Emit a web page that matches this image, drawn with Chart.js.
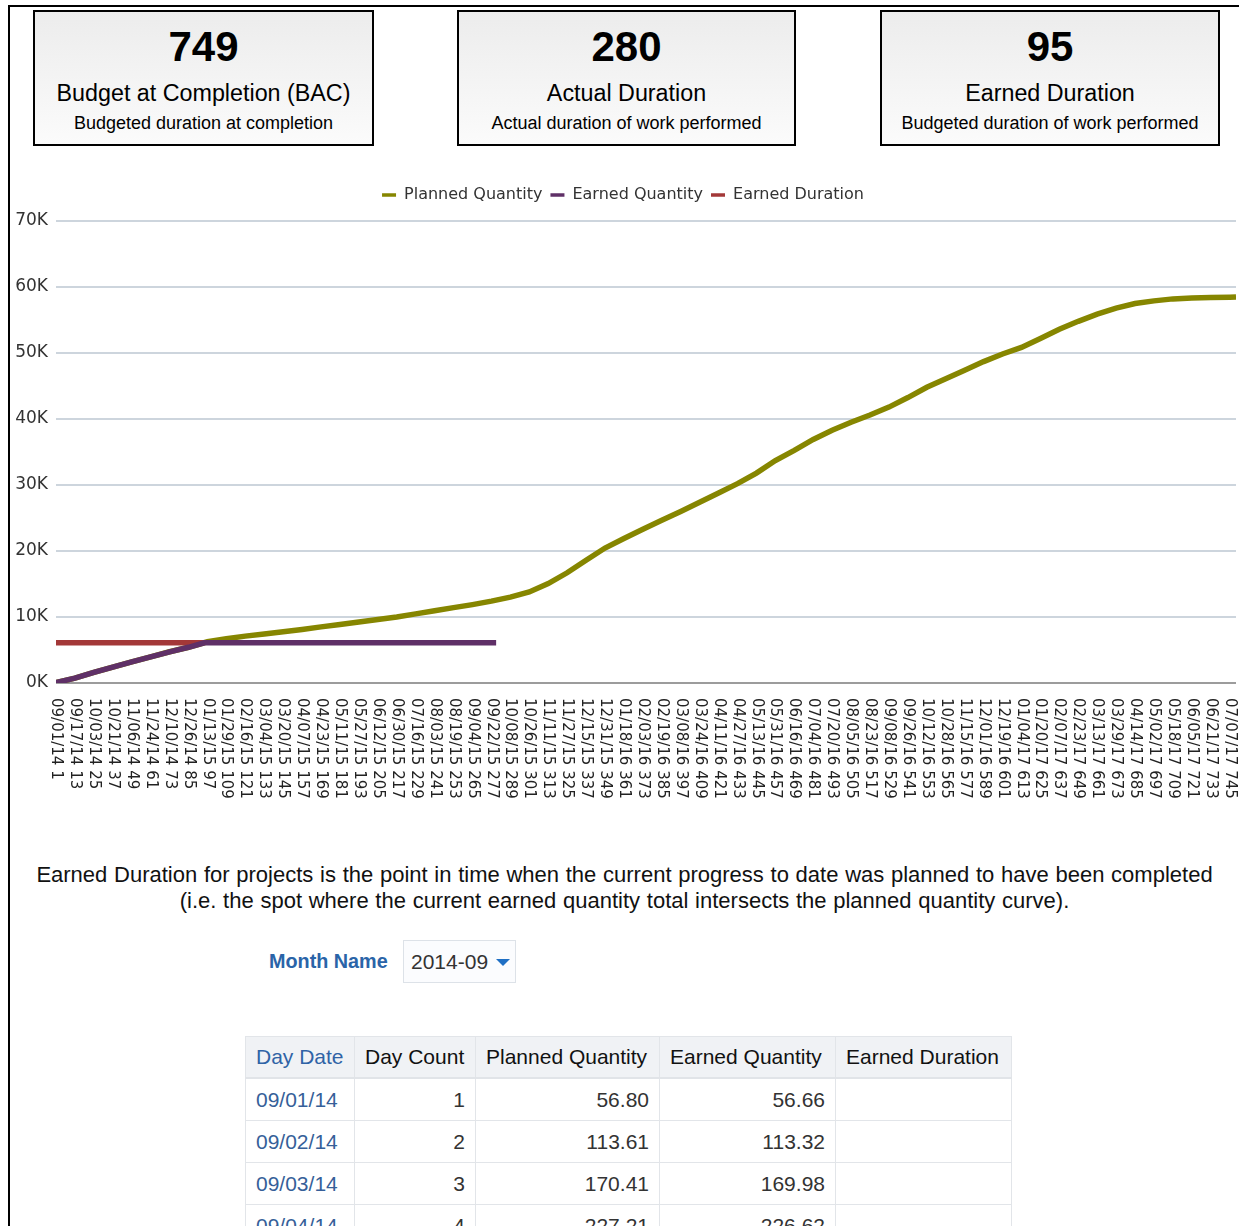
<!DOCTYPE html>
<html>
<head>
<meta charset="utf-8">
<title>Earned Duration</title>
<script src="https://cdn.jsdelivr.net/npm/chart.js@4.4.1/dist/chart.umd.min.js"></script>
<style>
  html, body { margin: 0; padding: 0; background: #fff; overflow: hidden; }
  body { width: 1239px; height: 1226px; position: relative; font-family: "Liberation Sans", Arial, sans-serif; }
  .frame { position: absolute; left: 8px; top: 5px; width: 1300px; height: 1300px;
           border-left: 2px solid #000; border-top: 2px solid #000; }
  .kpi { position: absolute; top: 10px; height: 136px; box-sizing: border-box; border: 2px solid #000;
         background: linear-gradient(#ececec, #fbfbfb); text-align: center; color: #000; }
  .kpi div { position: absolute; left: 0; right: 0; white-space: nowrap; }
  .kpi .value { top: 14px; font-size: 42px; line-height: 42px; font-weight: bold; }
  .kpi .title { top: 68px; font-size: 23.3px; line-height: 26px; }
  .kpi .note { top: 100px; font-size: 18px; line-height: 22px; }
  #chartBox { position: absolute; left: 10px; top: 172px; width: 1229px; height: 640px; }
  .desc { position: absolute; left: 10px; top: 862px; width: 1229px; text-align: center;
          font-size: 22px; line-height: 26px; color: #111; word-spacing: 0.6px; }
  .prompt { position: absolute; left: 269px; top: 949px; font-size: 19.8px; line-height: 24px;
            font-weight: bold; color: #2a64a8; }
  .select { position: absolute; left: 403px; top: 940px; width: 113px; height: 43px; box-sizing: border-box;
            border: 1px solid #dde2e8; background: #fbfcfe; font-size: 21px; line-height: 41px;
            color: #333; padding-left: 7px; }
  .select .arrow { position: absolute; left: 92px; top: 18px; width: 0; height: 0;
                   border-left: 7px solid transparent; border-right: 7px solid transparent;
                   border-top: 7px solid #1f6fc4; }
  table { position: absolute; left: 245px; top: 1036px; border-collapse: collapse; font-size: 21px; }
  th, td { border: 1px solid #e2e5e9; padding: 0 10px; white-space: nowrap; }
  th { height: 40px; background: #f0f2f5; font-weight: normal; text-align: left; color: #111;
       border-bottom: 2px solid #e1e4e8; }
  th.key { color: #2f63a6; }
  td { height: 41px; text-align: right; color: #333; }
  td.date { text-align: left; color: #365f99; }
</style>
</head>
<body>
<div class="frame"></div>
<div id="kpis"></div>
<div id="chartBox"><canvas id="chart"></canvas></div>
<div class="desc">Earned Duration for projects is the point in time when the current progress to date was planned to have been completed<br>(i.e. the spot where the current earned quantity total intersects the planned quantity curve).</div>
<div class="prompt">Month Name</div>
<div class="select">2014-09<span class="arrow"></span></div>
<table id="detail"></table>

<script>
// headline tiles
const kpiValues = [749, 280, 95];
const kpiTitles = ['Budget at Completion (BAC)', 'Actual Duration', 'Earned Duration'];
const kpiNotes = ['Budgeted duration at completion', 'Actual duration of work performed', 'Budgeted duration of work performed'];
const kpiLeft = [33, 457, 880];
const kpiWidth = [341, 339, 340];

// x axis: one label every 12 working days
const dayDates = ['09/01/14', '09/17/14', '10/03/14', '10/21/14', '11/06/14', '11/24/14', '12/10/14', '12/26/14',
  '01/13/15', '01/29/15', '02/16/15', '03/04/15', '03/20/15', '04/07/15', '04/23/15', '05/11/15', '05/27/15',
  '06/12/15', '06/30/15', '07/16/15', '08/03/15', '08/19/15', '09/04/15', '09/22/15', '10/08/15', '10/26/15',
  '11/11/15', '11/27/15', '12/15/15', '12/31/15', '01/18/16', '02/03/16', '02/19/16', '03/08/16', '03/24/16',
  '04/11/16', '04/27/16', '05/13/16', '05/31/16', '06/16/16', '07/04/16', '07/20/16', '08/05/16', '08/23/16',
  '09/08/16', '09/26/16', '10/12/16', '10/28/16', '11/15/16', '12/01/16', '12/19/16', '01/04/17', '01/20/17',
  '02/07/17', '02/23/17', '03/13/17', '03/29/17', '04/14/17', '05/02/17', '05/18/17', '06/05/17', '06/21/17',
  '07/07/17'];
const dayCounts = [1, 13, 25, 37, 49, 61, 73, 85, 97, 109, 121, 133, 145, 157, 169, 181, 193, 205, 217, 229,
  241, 253, 265, 277, 289, 301, 313, 325, 337, 349, 361, 373, 385, 397, 409, 421, 433, 445, 457, 469, 481, 493,
  505, 517, 529, 541, 553, 565, 577, 589, 601, 613, 625, 637, 649, 661, 673, 685, 697, 709, 721, 733, 745];

// cumulative planned quantity on each labelled day
const plannedQty = [60, 740, 1600, 2420, 3200, 3960, 4730, 5420, 6250, 6700, 7100, 7430, 7750, 8100, 8500,
  8870, 9240, 9620, 10000, 10470, 10940, 11420, 11880, 12400, 13000, 13800, 15060, 16700, 18600, 20450,
  21900, 23300, 24650, 26000, 27400, 28800, 30200, 31800, 33700, 35250, 36900, 38300, 39500, 40600, 41800,
  43250, 44800, 46100, 47400, 48700, 49850, 50850, 52200, 53600, 54800, 55900, 56800, 57500, 57900, 58200,
  58350, 58400, 58450];
const plannedFinal = 58480; // at day 749 (BAC)

// earned quantity up to the actual duration
const earnedDays = [1, 13, 25, 37, 49, 61, 73, 85, 95, 280];
const earnedQty = [57, 740, 1600, 2410, 3190, 3950, 4720, 5410, 6100, 6100];

// table rows for the selected month
const rowDates = ['09/01/14', '09/02/14', '09/03/14', '09/04/14'];
const rowCounts = [1, 2, 3, 4];
const rowPlanned = [56.80, 113.61, 170.41, 227.21];
const rowEarned = [56.66, 113.32, 169.98, 226.62];

const [bac, actualDuration, earnedDuration] = kpiValues;

document.getElementById('kpis').innerHTML = kpiValues.map((v, i) =>
  '<div class="kpi" style="left:' + kpiLeft[i] + 'px;width:' + kpiWidth[i] + 'px">' +
  '<div class="value">' + v + '</div><div class="title">' + kpiTitles[i] + '</div>' +
  '<div class="note">' + kpiNotes[i] + '</div></div>').join('');

let html = '<tr><th class="key" style="width:88px">Day Date</th><th style="width:100px">Day Count</th>' +
  '<th style="width:163px">Planned Quantity</th><th style="width:155px">Earned Quantity</th>' +
  '<th style="width:155px">Earned Duration</th></tr>';
rowDates.forEach((d, i) => {
  html += '<tr><td class="date">' + d + '</td><td>' + rowCounts[i] + '</td><td>' + rowPlanned[i].toFixed(2) +
    '</td><td>' + rowEarned[i].toFixed(2) + '</td><td></td></tr>';
});
document.getElementById('detail').innerHTML = html;

const plannedPoints = dayCounts.map((d, i) => ({ x: d, y: plannedQty[i] }));
plannedPoints.push({ x: bac, y: plannedFinal });
const earnedPoints = earnedDays.map((d, i) => ({ x: d, y: earnedQty[i] }));
const earnedLevel = earnedQty[earnedQty.length - 1];
const durationPoints = [{ x: 1, y: earnedLevel }, { x: earnedDuration, y: earnedLevel }];

// draws the day labels top-to-bottom under each tick
const dayLabels = {
  id: 'dayLabels',
  afterDraw(chart) {
    const scale = chart.scales.x;
    const ctx = chart.ctx;
    ctx.save();
    ctx.font = '15px "DejaVu Sans"';
    ctx.fillStyle = '#222';
    ctx.textAlign = 'left';
    ctx.textBaseline = 'middle';
    scale.ticks.forEach(t => {
      const i = dayCounts.indexOf(t.value);
      ctx.save();
      ctx.translate(scale.getPixelForValue(t.value), scale.top + 15);
      ctx.rotate(Math.PI / 2);
      ctx.fillText(dayDates[i] + ' ' + dayCounts[i], 0, 0);
      ctx.restore();
    });
    ctx.restore();
  }
};

// a bit more room between legend and plot
const legendGap = {
  id: 'legendGap',
  beforeInit(chart) {
    const fit = chart.legend.fit;
    chart.legend.fit = function () {
      fit.call(this);
      this.height += 8;
    };
  }
};

const lineStyle = { borderWidth: 5.5, pointRadius: 0, tension: 0, fill: false };

new Chart(document.getElementById('chart'), {
  type: 'line',
  data: {
    datasets: [
      Object.assign({ label: 'Planned Quantity', data: plannedPoints, borderColor: '#868600', backgroundColor: '#868600', order: 2 }, lineStyle),
      Object.assign({ label: 'Earned Quantity', data: earnedPoints, borderColor: '#5f3067', backgroundColor: '#5f3067', order: 0 }, lineStyle),
      Object.assign({ label: 'Earned Duration', data: durationPoints, borderColor: '#a33838', backgroundColor: '#a33838', order: 1 }, lineStyle)
    ]
  },
  options: {
    responsive: true,
    maintainAspectRatio: false,
    animation: false,
    layout: { padding: { top: 7, right: 3, left: 0, bottom: 0 } },
    scales: {
      x: {
        type: 'linear',
        min: 1,
        max: bac,
        afterBuildTicks(scale) { scale.ticks = dayCounts.map(v => ({ value: v })); },
        ticks: { display: false },
        grid: { display: false },
        border: { display: false },
        afterFit(scale) { scale.height = 129; }
      },
      y: {
        min: 0,
        max: 70000,
        ticks: {
          stepSize: 10000,
          callback: v => v / 1000 + 'K',
          font: { family: 'DejaVu Sans', size: 17 },
          color: '#333',
          padding: 8
        },
        grid: {
          color: c => c.tick.value === 0 ? '#9c9c9c' : '#cdd5dd',
          lineWidth: 2,
          drawTicks: false
        },
        border: { display: false },
        afterFit(scale) { scale.width = 46; }
      }
    },
    plugins: {
      legend: {
        position: 'top',
        labels: {
          usePointStyle: true,
          pointStyle: 'line',
          pointStyleWidth: 14,
          padding: 8,
          color: '#333',
          font: { family: 'DejaVu Sans', size: 16 },
          sort: (a, b) => a.datasetIndex - b.datasetIndex,
          generateLabels(chart) {
            return Chart.defaults.plugins.legend.labels.generateLabels(chart)
              .map(item => Object.assign(item, { lineWidth: 3.5 }));
          }
        }
      },
      tooltip: { enabled: false }
    }
  },
  plugins: [dayLabels, legendGap]
});
</script>
</body>
</html>
